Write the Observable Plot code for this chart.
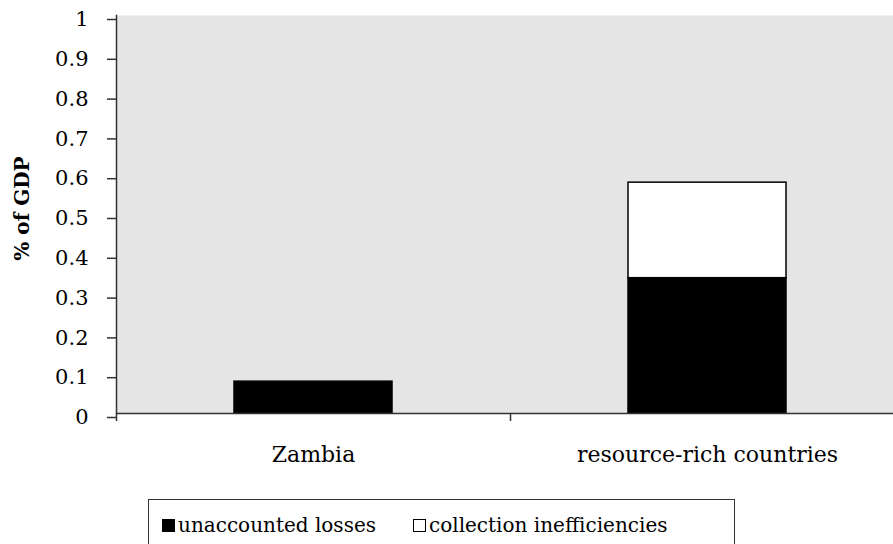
<!DOCTYPE html>
<html>
<head>
<meta charset="utf-8">
<script src="https://cdn.jsdelivr.net/npm/d3@7"></script>
<script src="https://cdn.jsdelivr.net/npm/@observablehq/plot@0.6"></script>
<style>
  html, body { margin: 0; padding: 0; background: #fff; overflow: hidden; }
  #chart svg { display: block; overflow: hidden; }
  #legend {
    position: relative; margin-left: 148px; margin-top: 29px; width: 585px; height: 50px;
    border: 1.5px solid #333; font-family: "DejaVu Serif"; font-size: 20px; color: #000;
  }
  .item { position: absolute; top: 13px; display: flex; align-items: center; white-space: nowrap; }
  .sw { width: 13px; height: 13px; border: 1.5px solid #000; margin-right: 3px; box-sizing: border-box; }
</style>
</head>
<body>
<div id="chart"></div>
<div id="legend"></div>
<script>
const categories = ["Zambia", "resource-rich countries"];
const seriesNames = ["unaccounted losses", "collection inefficiencies"];
const seriesColors = ["#000000", "#ffffff"];
const unaccountedLosses = [0.08, 0.34];
const collectionInefficiencies = [0, 0.24];
const yTicks = [0, 0.1, 0.2, 0.3, 0.4, 0.5, 0.6, 0.7, 0.8, 0.9, 1];
const yLabel = "% of GDP";

const data = categories.flatMap((c, i) => [
  {category: c, series: seriesNames[0], value: unaccountedLosses[i]},
  {category: c, series: seriesNames[1], value: collectionInefficiencies[i]}
]).filter(d => d.value > 0);

const width = 893, height = 470, marginLeft = 116, marginRight = -11;
const step = (width - marginLeft - marginRight) / categories.length;

const chart = Plot.plot({
  width, height,
  marginTop: 15, marginBottom: 57, marginLeft, marginRight,
  style: {fontFamily: "DejaVu Serif", fontSize: "21px", color: "#000", background: "#fff"},
  x: {domain: categories, paddingInner: 0.6, paddingOuter: 0.3, axis: null},
  y: {domain: [0, 1], axis: null},
  color: {domain: seriesNames, range: seriesColors},
  marks: [
    Plot.frame({fill: "#e5e5e5", stroke: null}),
    Plot.barY(data, {x: "category", y: "value", fill: "series", stroke: "#000", strokeWidth: 1.5}),
    Plot.axisY(yTicks, {tickSize: 9, tickPadding: 19, dy: 4, strokeWidth: 1.5, stroke: "#333",
      tickFormat: d => String(+d.toFixed(1)), label: null}),
    Plot.ruleY([0], {stroke: "#333", strokeWidth: 1.5}),
    Plot.frame({anchor: "left", stroke: "#333", strokeWidth: 1.5}),
    Plot.axisX({tickSize: 8, text: null, dx: -step / 2, stroke: "#333", strokeWidth: 1.5, label: null}),
    Plot.axisX({tickSize: 0, tickPadding: 33, fontSize: 22, label: null}),
    Plot.text([yLabel], {frameAnchor: "left", text: d => d, textAnchor: "middle", rotate: -90, dx: -94, dy: -6, fontWeight: "bold", fontSize: 20})
  ]
});
document.getElementById("chart").appendChild(chart);

const legend = document.getElementById("legend");
const lefts = [13, 264];
seriesNames.forEach((name, i) => {
  const item = document.createElement("div");
  item.className = "item";
  item.style.left = lefts[i] + "px";
  const sw = document.createElement("span");
  sw.className = "sw";
  sw.style.background = seriesColors[i];
  const t = document.createElement("span");
  t.textContent = name;
  item.appendChild(sw);
  item.appendChild(t);
  legend.appendChild(item);
});
</script>
</body>
</html>
